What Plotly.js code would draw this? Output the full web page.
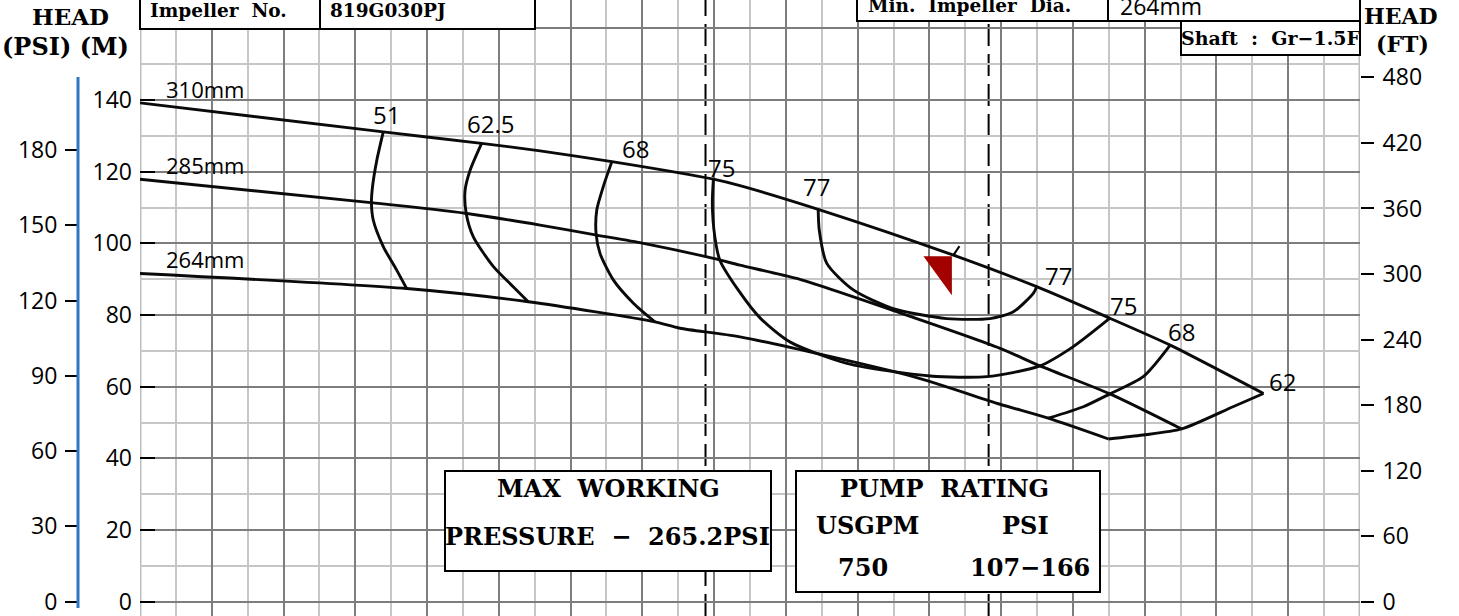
<!DOCTYPE html>
<html><head><meta charset="utf-8">
<script src="https://cdn.plot.ly/plotly-3.0.1.min.js"></script>
<style>html,body{margin:0;padding:0;background:#fff}#chart{width:1459px;height:616px}</style>
</head><body><div id="chart"></div>
<script>
// Flow in chart grid columns (one light column = 1 unit), head in metres
const flow310 = [0, 6.78, 9.52, 11.15, 13.15, 15.98, 16.72, 18.90, 22.67, 24.99, 27.03, 28.71, 31.31];
const head310 = [139.2, 131.1, 127.9, 125.8, 122.8, 117.9, 116.1, 109.5, 96.7, 87.9, 79.1, 71.6, 58.1];
const flow285 = [0, 6.50, 9.06, 11.15, 12.73, 14.03, 15.98, 16.72, 18.30, 21.18, 23.97, 25.08, 27.03, 29.03];
const head285 = [117.9, 111.3, 108.4, 105.1, 102.3, 100.0, 95.8, 93.9, 90.2, 80.6, 70.7, 65.8, 58.0, 48.2];
const flow264 = [0, 7.43, 10.82, 14.35, 15.05, 16.72, 21.55, 23.97, 25.31, 26.99];
const head264 = [91.6, 87.4, 83.7, 78.1, 76.3, 73.9, 62.8, 55.1, 51.2, 45.4];
const flowEnd = [31.31, 30.46, 29.03, 27.95, 26.99];
const headEnd = [58.1, 54.4, 48.2, 46.5, 45.4];
const impellerLabels = ['310mm', '285mm', '264mm'];

// Efficiency iso-lines (%)
const eff51Flow = [6.78, 6.60, 6.48, 6.45, 6.50, 6.78, 7.15, 7.43];
const eff51Head = [131.1, 123.2, 115.8, 111.4, 106.5, 99.1, 92.6, 87.4];
const eff625Flow = [9.52, 9.20, 9.06, 9.09, 9.29, 9.85, 10.40, 10.82];
const eff625Head = [127.9, 120.4, 114.8, 108.4, 101.8, 93.5, 87.9, 83.7];
const eff68aFlow = [13.15, 12.91, 12.73, 12.71, 12.82, 13.19, 13.75, 14.35];
const eff68aHead = [122.8, 115.8, 109.3, 102.8, 97.2, 89.8, 83.3, 78.1];
const eff75Flow = [15.98, 15.95, 16.02, 16.16, 16.67, 17.28, 18.11, 19.70, 22.02, 23.60, 25.08, 26.00, 27.03];
const eff75Head = [117.9, 111.2, 101.8, 95.3, 87.0, 79.2, 72.5, 66.5, 63.0, 62.8, 65.8, 71.1, 79.1];
const eff77Flow = [18.90, 18.93, 19.14, 19.88, 20.99, 22.48, 23.69, 24.34, 24.90, 24.99];
const eff77Head = [109.5, 103.7, 94.4, 87.0, 81.8, 79.0, 79.0, 80.9, 86.1, 87.9];
const eff68bFlow = [28.71, 27.96, 27.03, 26.29, 25.31];
const eff68bHead = [71.6, 62.8, 58.0, 54.4, 51.2];
const effValues = ['51', '62.5', '68', '75', '77', '77', '75', '68', '62'];

// Axis ticks
const tickM = [0, 20, 40, 60, 80, 100, 120, 140, 160];
const tickMText = ['0', '20', '40', '60', '80', '100', '120', '140', ''];
const tickPSI = [0, 30, 60, 90, 120, 150, 180];
const tickFT = [0, 60, 120, 180, 240, 300, 360, 420, 480];

// Rating / limit markers
const dashedFlows = [15.76, 23.65];
const ratingFlow = 22.67, ratingHead = 96.7;

const M_RANGE = [-3.99, 167.9];
const PSI_PER_M = 1.428, FT_PER_M = 3.2808;
const W = 1459, H = 616;
const PX = v => v / W, PY = v => 1 - v / H;
const UX = 34 / 1220, UY = 1 / 3.584;   // data units per pixel

const lineStyle = {color: '#0a0a0a', width: 2.9, shape: 'spline', smoothing: 0.7};
function curve(x, y) {
  return {x: x, y: y, type: 'scatter', mode: 'lines', hoverinfo: 'skip',
          line: lineStyle, xaxis: 'x', yaxis: 'y'};
}
const traces = [
  curve(flow310, head310), curve(flow285, head285), curve(flow264, head264), curve(flowEnd, headEnd),
  curve(eff51Flow, eff51Head), curve(eff625Flow, eff625Head), curve(eff68aFlow, eff68aHead),
  curve(eff75Flow, eff75Head), curve(eff77Flow, eff77Head), curve(eff68bFlow, eff68bHead)
];

const sansFont = {family: 'Open Sans, sans-serif', size: 22, color: '#000'};
const serifFont = {family: 'DejaVu Serif, serif', size: 24, color: '#000', weight: 'bold'};

const annotations = [];
function ann(text, x, y, opts) {
  annotations.push(Object.assign({text: text, x: x, y: y, showarrow: false,
    xanchor: 'center', yanchor: 'middle'}, opts));
}
// impeller labels
[[flow310, head310], [flow285, head285], [flow264, head264]].forEach((c, i) => {
  ann(impellerLabels[i], c[0][0], c[1][0], {xref: 'x', yref: 'y', xanchor: 'left',
    xshift: 24, yshift: 14, font: sansFont});
});
// efficiency labels anchored at curve ends
const effAnchors = [
  [eff51Flow[0], eff51Head[0], 3, 17], [eff625Flow[0], eff625Head[0], 9, 20],
  [eff68aFlow[0], eff68aHead[0], 24, 13], [eff75Flow[0], eff75Head[0], 8, 12],
  [eff77Flow[0], eff77Head[0], -2, 23], [eff77Flow[9], eff77Head[9], 22, 11],
  [eff75Flow[12], eff75Head[12], 14, 13], [eff68bFlow[0], eff68bHead[0], 11, 14],
  [flow310[12], head310[12], 19, 12]
];
effAnchors.forEach((a, i) => {
  ann(effValues[i], a[0], a[1], {xref: 'x', yref: 'y', xshift: a[2], yshift: a[3],
    font: {family: 'Open Sans, sans-serif', size: 24, color: '#000'}});
});

// Header texts
const hdr = {family: 'DejaVu Serif, serif', size: 23, color: '#000', weight: 'bold'};
ann('HEAD', PX(70), PY(16), {xref: 'paper', yref: 'paper', font: hdr});
ann('(PSI)\u00a0(M)', PX(65), PY(46), {xref: 'paper', yref: 'paper', font: {family: 'DejaVu Serif, serif', size: 24, color: '#000', weight: 'bold'}});
ann('HEAD', PX(1401), PY(16), {xref: 'paper', yref: 'paper', font: {family: 'DejaVu Serif, serif', size: 22, color: '#000', weight: 'bold'}});
ann('(FT)', PX(1402), PY(44), {xref: 'paper', yref: 'paper', font: {family: 'DejaVu Serif, serif', size: 22, color: '#000', weight: 'bold'}});
const boxFont = {family: 'DejaVu Serif, serif', size: 18.5, color: '#000', weight: 'bold'};
ann('Impeller\u00a0\u00a0No.', PX(148), PY(10), {xref: 'paper', yref: 'paper', xanchor: 'left', font: boxFont});
ann('819G030PJ', PX(328), PY(10), {xref: 'paper', yref: 'paper', xanchor: 'left', font: boxFont});
ann('Min.\u00a0\u00a0Impeller\u00a0\u00a0Dia.', PX(866), PY(6), {xref: 'paper', yref: 'paper', xanchor: 'left', font: boxFont});
ann('264mm', PX(1118), PY(6), {xref: 'paper', yref: 'paper', xanchor: 'left', font: {family: 'Open Sans, sans-serif', size: 23, color: '#000'}});
ann('Shaft\u00a0\u00a0:\u00a0\u00a0Gr\u22121.5F', PX(1270), PY(38), {xref: 'paper', yref: 'paper', font: {family: 'DejaVu Serif, serif', size: 19, color: '#000', weight: 'bold'}});
// Bottom boxes
ann('MAX\u00a0\u00a0WORKING', PX(608), PY(489), {xref: 'paper', yref: 'paper', font: serifFont});
ann('PRESSURE\u00a0\u00a0\u2212\u00a0\u00a0265.2PSI', PX(607), PY(536), {xref: 'paper', yref: 'paper', font: serifFont});
ann('PUMP\u00a0\u00a0RATING', PX(944), PY(489), {xref: 'paper', yref: 'paper', font: serifFont});
ann('USGPM', PX(867), PY(525), {xref: 'paper', yref: 'paper', font: serifFont});
ann('PSI', PX(1025), PY(525), {xref: 'paper', yref: 'paper', font: serifFont});
ann('750', PX(863), PY(567), {xref: 'paper', yref: 'paper', font: serifFont});
ann('107\u2212166', PX(1030), PY(567), {xref: 'paper', yref: 'paper', font: serifFont});

const shapes = [];
// light plot borders over the dark gridline
[0, 34].forEach(v => shapes.push({type: 'line', xref: 'x', yref: 'paper', x0: v, x1: v, y0: 0, y1: 1,
  layer: 'between', line: {color: '#bdbdbd', width: 3}}));
// dashed flow limits
dashedFlows.forEach(v => shapes.push({type: 'line', xref: 'x', yref: 'paper', x0: v, x1: v, y0: 0, y1: 1,
  layer: 'between', line: {color: '#000', width: 2, dash: '22px,8px'}}));
// rating marker
const rx = ratingFlow, ry = ratingHead;
shapes.push({type: 'path', xref: 'x', yref: 'y', layer: 'above', line: {width: 0}, fillcolor: '#a30000',
  path: `M ${rx - 30 * UX},${ry - 1 * UY} L ${rx - 1.6 * UX},${ry - 1 * UY} L ${rx - 1.6 * UX},${ry - 40 * UY} Z`});
shapes.push({type: 'line', xref: 'x', yref: 'y', layer: 'above', x0: rx, y0: ry, x1: rx + 6 * UX, y1: ry + 9 * UY,
  line: {color: '#000', width: 2}});
// blue PSI axis line
shapes.push({type: 'line', xref: 'paper', yref: 'paper', x0: PX(78), x1: PX(78), y0: PY(608), y1: PY(77),
  line: {color: '#2e78c2', width: 3}});
// boxes
function box(x0, y0, x1, y1) {
  shapes.push({type: 'rect', xref: 'paper', yref: 'paper', x0: PX(x0), x1: PX(x1), y0: PY(y1), y1: PY(y0),
    fillcolor: '#fff', line: {color: '#000', width: 2}, layer: 'above'});
}
function vline(x, y0, y1) {
  shapes.push({type: 'line', xref: 'paper', yref: 'paper', x0: PX(x), x1: PX(x), y0: PY(y1), y1: PY(y0),
    line: {color: '#000', width: 2}, layer: 'above'});
}
box(140, -5, 535, 29); vline(320, -5, 29);
box(857, -5, 1360, 21); vline(1108, -5, 21);
box(1181, 21, 1360, 55);
box(445, 471, 771, 571);
box(796, 471, 1100, 592);

const tickFont = {family: 'Open Sans, sans-serif', size: 23, color: '#000'};
const layout = {
  width: W, height: H, margin: {l: 0, r: 0, t: 0, b: 0, pad: 0},
  paper_bgcolor: '#fff', plot_bgcolor: '#fff', showlegend: false,
  xaxis: {domain: [140 / W, 1360 / W], range: [0, 34], tickmode: 'linear', tick0: 0, dtick: 2,
    showticklabels: false, ticks: '', showgrid: true, gridcolor: '#7d7d7d', gridwidth: 2,
    minor: {tickmode: 'linear', tick0: 0, dtick: 1, showgrid: true, gridcolor: '#c6c6c6', gridwidth: 2},
    zeroline: false, showline: false, fixedrange: true},
  yaxis: {range: M_RANGE, tickmode: 'array', tickvals: tickM, ticktext: tickMText,
    ticks: 'inside', ticklen: 15, tickwidth: 2, tickcolor: '#000', tickfont: tickFont,
    ticklabelstandoff: 7, ticklabeloverflow: 'allow',
    showgrid: true, gridcolor: '#7d7d7d', gridwidth: 2,
    minor: {tickmode: 'linear', tick0: 0, dtick: 10, showgrid: true, gridcolor: '#c6c6c6', gridwidth: 2},
    zeroline: false, showline: false, automargin: false, fixedrange: true, anchor: 'x', side: 'left'},
  yaxis2: {overlaying: 'y', anchor: 'free', position: 78 / W, side: 'left',
    range: [M_RANGE[0] * PSI_PER_M, M_RANGE[1] * PSI_PER_M], tickmode: 'array', tickvals: tickPSI,
    ticks: 'outside', ticklen: 13, tickwidth: 2, tickcolor: '#000', tickfont: tickFont,
    ticklabelstandoff: 3, ticklabeloverflow: 'allow',
    showgrid: false, zeroline: false, showline: false, automargin: false, fixedrange: true},
  yaxis3: {overlaying: 'y', anchor: 'x', side: 'right',
    range: [M_RANGE[0] * FT_PER_M, M_RANGE[1] * FT_PER_M], tickmode: 'array', tickvals: tickFT,
    ticks: 'outside', ticklen: 13, tickwidth: 2, tickcolor: '#000', tickfont: tickFont,
    ticklabelstandoff: 4, ticklabeloverflow: 'allow',
    showgrid: false, zeroline: false, showline: false, automargin: false, fixedrange: true},
  annotations: annotations, shapes: shapes
};
// invisible traces so the secondary axes render
traces.push({x: [0], y: [0], yaxis: 'y2', type: 'scatter', mode: 'markers', marker: {opacity: 0}, hoverinfo: 'skip'});
traces.push({x: [0], y: [0], yaxis: 'y3', type: 'scatter', mode: 'markers', marker: {opacity: 0}, hoverinfo: 'skip'});
Plotly.newPlot('chart', traces, layout, {staticPlot: true, displayModeBar: false});
</script></body></html>
